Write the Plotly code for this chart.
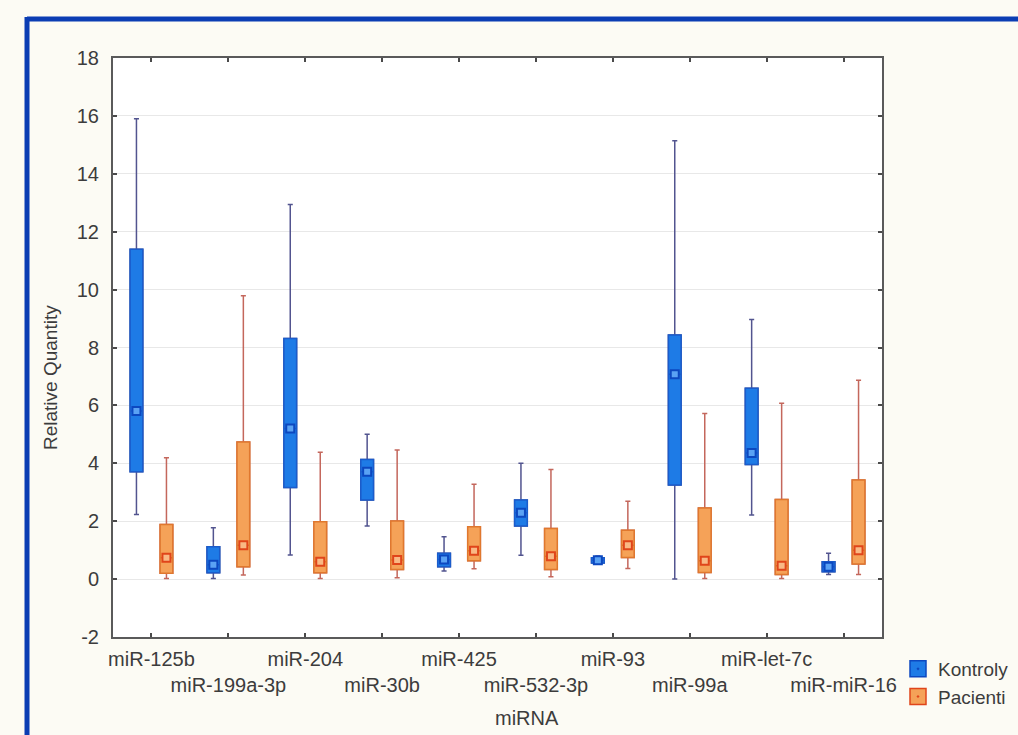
import plotly.graph_objects as go
import numpy as np

categories = ["miR-125b", "miR-199a-3p", "miR-204", "miR-30b", "miR-425",
              "miR-532-3p", "miR-93", "miR-99a", "miR-let-7c", "miR-miR-16"]

# Kontroly (controls)
k_min = [2.23, 0.02, 0.83, 1.83, 0.28, 0.82, 0.52, 0.00, 2.21, 0.16]
k_q1 = [3.71, 0.22, 3.16, 2.73, 0.43, 1.83, 0.56, 3.25, 3.96, 0.25]
k_med = [5.81, 0.50, 5.20, 3.71, 0.68, 2.29, 0.65, 7.08, 4.36, 0.43]
k_q3 = [11.39, 1.12, 8.31, 4.13, 0.89, 2.73, 0.74, 8.43, 6.59, 0.60]
k_max = [15.90, 1.77, 12.94, 5.00, 1.46, 4.00, 0.80, 15.14, 8.97, 0.89]

# Pacienti (patients)
p_min = [0.02, 0.14, 0.02, 0.05, 0.36, 0.08, 0.37, 0.02, 0.02, 0.16]
p_q1 = [0.20, 0.43, 0.22, 0.33, 0.63, 0.33, 0.75, 0.23, 0.16, 0.52]
p_med = [0.74, 1.17, 0.60, 0.66, 0.98, 0.79, 1.17, 0.63, 0.46, 1.00]
p_q3 = [1.89, 4.74, 1.98, 2.01, 1.81, 1.75, 1.69, 2.46, 2.75, 3.42]
p_max = [4.19, 9.79, 4.38, 4.46, 3.28, 3.79, 2.69, 5.72, 6.07, 6.87]

y_ticks = list(range(-2, 19, 2))

# ---- styling ----
W, H = 1018, 735
L, R, T, B = 113, 136, 58, 98
PW, PH = W - L - R, H - T - B
FONT = "Liberation Sans, Arial, sans-serif"
TXT = "#3c3c3c"
CREAM = "#fcfbf4"
FRAME = "#0b3db3"

OFFSET = 0.195
BOXW = 0.165

groups = [
    dict(name="Kontroly", sign=-1, mn=k_min, q1=k_q1, med=k_med, q3=k_q3, mx=k_max,
         fill="#1e7be6", border="#1a5ccc", whisk="#52548f",
         mfill="#5aa2f4", mline="#0c48c0"),
    dict(name="Pacienti", sign=1, mn=p_min, q1=p_q1, med=p_med, q3=p_q3, mx=p_max,
         fill="#f5a258", border="#e0782e", whisk="#c4675c",
         mfill="#f9b884", mline="#e0451a"),
]

idx = np.arange(len(categories))
fig = go.Figure()

for g in groups:
    xs = idx + g["sign"] * OFFSET
    # whiskers (min-max)
    fig.add_trace(go.Box(
        x=xs, q1=g["q1"], median=g["med"], q3=g["q3"],
        lowerfence=g["mn"], upperfence=g["mx"],
        width=BOXW, whiskerwidth=0.4,
        line=dict(color=g["whisk"], width=1.5),
        fillcolor=g["fill"], boxpoints=False,
        showlegend=False, hoverinfo="skip"))
    # box (quartiles)
    fig.add_trace(go.Box(
        x=xs, q1=g["q1"], median=g["med"], q3=g["q3"],
        lowerfence=g["q1"], upperfence=g["q3"],
        width=BOXW, whiskerwidth=0,
        line=dict(color=g["border"], width=1.5),
        fillcolor=g["fill"], boxpoints=False,
        showlegend=False, hoverinfo="skip"))
    # median markers
    fig.add_trace(go.Scatter(
        x=xs, y=g["med"], mode="markers",
        marker=dict(symbol="square", size=8, color=g["mfill"],
                    line=dict(color=g["mline"], width=2)),
        showlegend=False, hoverinfo="skip"))
    # legend entry
    fig.add_trace(go.Scatter(
        x=[None], y=[None], mode="markers", name=g["name"],
        marker=dict(symbol="square-dot", size=16, color=g["fill"],
                    line=dict(color=g["mline"], width=1.5))))

ticktext = [("<br>" + c) if i % 2 else c for i, c in enumerate(categories)]

axis_common = dict(showline=True, linecolor="#5a5a5a", linewidth=2, mirror="ticks",
                   ticks="inside", ticklen=4, tickwidth=1.5, tickcolor="#4a4a4a",
                   tickfont=dict(family=FONT, size=20, color=TXT), zeroline=False,
                   tickangle=0)

fig.update_xaxes(range=[-0.5, len(categories) - 0.5], tickmode="array",
                 tickvals=idx, ticktext=ticktext, showgrid=False,
                 ticklabelstandoff=3, **axis_common)
fig.update_yaxes(range=[-2, 18], tickmode="array", tickvals=y_ticks,
                 ticktext=[str(v) for v in y_ticks],
                 showgrid=True, gridcolor="#e8e8e8", gridwidth=1,
                 ticklabelstandoff=8, **axis_common)

def px_x(p):
    return (p - L) / PW

def px_y(p):
    return (H - B - p) / PH

shapes = [
    dict(type="line", xref="paper", yref="paper", x0=px_x(27), x1=px_x(W + 5),
         y0=px_y(19), y1=px_y(19), line=dict(color=FRAME, width=5)),
    dict(type="line", xref="paper", yref="paper", x0=px_x(27), x1=px_x(27),
         y0=px_y(17), y1=px_y(H + 5), line=dict(color=FRAME, width=5)),
]

annotations = [
    dict(text="Relative Quantity", xref="paper", yref="paper", x=px_x(50), y=px_y(378),
         textangle=-90, showarrow=False, xanchor="center", yanchor="middle",
         font=dict(family=FONT, size=19, color=TXT)),
    dict(text="miRNA", xref="paper", yref="paper", x=px_x(527), y=px_y(718),
         showarrow=False, xanchor="center", yanchor="middle",
         font=dict(family=FONT, size=20, color=TXT)),
]

fig.update_layout(
    width=W, height=H,
    margin=dict(l=L, r=R, t=T, b=B, autoexpand=False),
    paper_bgcolor=CREAM, plot_bgcolor="white",
    shapes=shapes, annotations=annotations,
    legend=dict(x=px_x(898), y=px_y(650), xanchor="left", yanchor="top",
                bgcolor="rgba(0,0,0,0)", tracegroupgap=0,
                font=dict(family=FONT, size=19, color=TXT)),
    showlegend=True,
)

fig.write_html("out.html", config={"displayModeBar": False},
               post_script="document.body.style.margin='0px';document.body.style.overflow='hidden';")
